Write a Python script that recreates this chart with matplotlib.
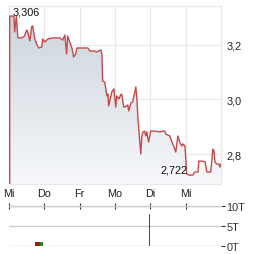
import numpy as np
import matplotlib
matplotlib.use("Agg")
import matplotlib.pyplot as plt
from matplotlib.patches import Polygon
from matplotlib.colors import LinearSegmentedColormap

plt.rcParams['font.family'] = ['Liberation Sans', 'DejaVu Sans']

day_labels = ["Mi", "Do", "Fr", "Mo", "Di", "Mi"]
y_ticks = [2.8, 3.0, 3.2]
y_tick_labels = ["2,8", "3,0", "3,2"]

t = [0.02, 0.14, 0.16, 0.21, 0.25, 0.36, 0.44, 0.50, 0.53, 0.59, 0.64, 0.67, 0.73, 0.78,
     0.84, 0.93, 0.95, 1.01, 1.10, 1.24, 1.44, 1.52, 1.58, 1.63, 1.66, 1.72, 1.78, 1.83,
     1.89, 1.92, 2.00, 2.23, 2.29, 2.43, 2.48, 2.54, 2.60, 2.63, 2.65, 2.71, 2.77, 2.80,
     2.82, 2.91, 2.97, 3.02, 3.05, 3.11, 3.16, 3.19, 3.25, 3.33, 3.36, 3.39, 3.45, 3.50,
     3.53, 3.59, 3.62, 3.65, 3.73, 3.76, 3.79, 3.84, 3.87, 3.90, 3.95, 4.01, 4.04, 4.13,
     4.27, 4.35, 4.41, 4.44, 4.55, 4.61, 4.67, 4.72, 4.78, 4.83, 4.89, 4.92, 4.98, 5.03,
     5.12, 5.20, 5.26, 5.35, 5.37, 5.46, 5.55, 5.60, 5.71, 5.77, 5.80, 5.83, 5.88, 5.94,
     5.97, 5.99]
price = [3.306, 3.306, 3.248, 3.306, 3.226, 3.226, 3.233, 3.255, 3.248, 3.215, 3.266, 3.270,
         3.222, 3.204, 3.189, 3.193, 3.222, 3.211, 3.222, 3.226, 3.226, 3.218, 3.237, 3.167,
         3.233, 3.211, 3.189, 3.156, 3.167, 3.189, 3.189, 3.189, 3.178, 3.178, 3.174, 3.178,
         3.182, 3.167, 3.068, 3.064, 3.013, 3.020, 2.976, 3.028, 3.039, 2.972, 3.013, 3.002,
         3.017, 3.020, 2.972, 2.976, 2.980, 2.958, 2.987, 2.991, 3.009, 3.046, 3.002, 2.928,
         2.800, 2.866, 2.881, 2.884, 2.866, 2.881, 2.844, 2.884, 2.884, 2.884, 2.881, 2.884,
         2.884, 2.873, 2.866, 2.844, 2.826, 2.807, 2.866, 2.844, 2.829, 2.837, 2.829, 2.727,
         2.722, 2.723, 2.734, 2.734, 2.774, 2.774, 2.771, 2.734, 2.734, 2.818, 2.811, 2.771,
         2.763, 2.763, 2.752, 2.763]

vol_t = [0.80, 0.92, 3.97]
vol = [0.9, 0.9, 8.0]
vol_colors = ["#a31d1d", "#1f8a2a", "#a52020"]
vol_w = [0.13, 0.11, 0.03]
vol_ticks = [0, 5, 10]
vol_labels = ["0T", "5T", "10T"]

W, H = 264, 255
fig = plt.figure(figsize=(W / 100, H / 100), dpi=100)

ymin, ymax = 2.690, 3.343
ax = fig.add_axes([9 / W, 1 - 185 / H, (221 - 9) / W, (185 - 7) / H])
ax.set_xlim(0, 6)
ax.set_ylim(ymin, ymax)

# gradient fill under the line
grad = np.linspace(0, 1, 256).reshape(-1, 1)
cmap = LinearSegmentedColormap.from_list("g", ["#f7f8fa", "#c9d3dc"])
im = ax.imshow(grad, extent=[0, 6, ymin, ymax], origin="lower", cmap=cmap,
               aspect="auto", zorder=1)
verts = [(t[0], ymin)] + list(zip(t, price)) + [(t[-1], ymin)]
poly = Polygon(verts, closed=True, facecolor="none", edgecolor="none")
ax.add_patch(poly)
im.set_clip_path(poly)

ax.plot([t[0]] + t, [ymin] + price, color="#c64a4a", lw=1.0, zorder=3)

ax.set_xticks(range(6))
ax.set_yticks(y_ticks)
ax.grid(True, color="#e8e8e8", lw=0.9, zorder=0)
ax.set_axisbelow(True)
for s in ["left", "bottom", "top", "right"]:
    ax.spines[s].set_color("#e8e8e8")
    ax.spines[s].set_linewidth(0.9)
ax.yaxis.tick_right()
ax.set_yticklabels(y_tick_labels)
ax.set_xticklabels(day_labels)
ax.tick_params(axis="both", length=0, labelsize=7.8, colors="#222222")
ax.tick_params(axis="y", pad=4)
ax.tick_params(axis="x", pad=3)

imax = int(np.argmax(price))
imin = int(np.argmin(price))
ax.annotate("3,306", (t[imax], price[imax]), xytext=(2, 3), textcoords="offset points",
            fontsize=7.8, color="#111111", ha="left", va="center", zorder=4)
ax.annotate("2,722", (t[imin], price[imin]), xytext=(-2, 4), textcoords="offset points",
            fontsize=7.8, color="#111111", ha="right", va="center", zorder=4)

# volume panel
axv = fig.add_axes([9 / W, 1 - 247 / H, (221 - 9) / W, (247 - 207) / H])
axv.set_xlim(0, 6)
axv.set_ylim(0, 10)
axv.bar(vol_t, vol, width=vol_w, color=vol_colors, zorder=3)
axv.set_yticks(vol_ticks)
axv.set_yticklabels(vol_labels)
axv.yaxis.tick_right()
axv.grid(True, axis="y", color="#cccccc", lw=1.0, zorder=0)
for s in ["left", "bottom", "right"]:
    axv.spines[s].set_visible(False)
axv.spines["top"].set_color("#cccccc")
axv.spines["top"].set_linewidth(1.0)
axv.xaxis.tick_top()
axv.set_xticks(range(6))
axv.tick_params(axis="x", direction="inout", length=4, width=0.8, colors="#333333",
                labeltop=False, labelbottom=False)
axv.tick_params(axis="y", direction="out", length=3, width=0.8, colors="#333333",
                labelsize=7.8, pad=1)

fig.savefig("out.png", dpi=100)
